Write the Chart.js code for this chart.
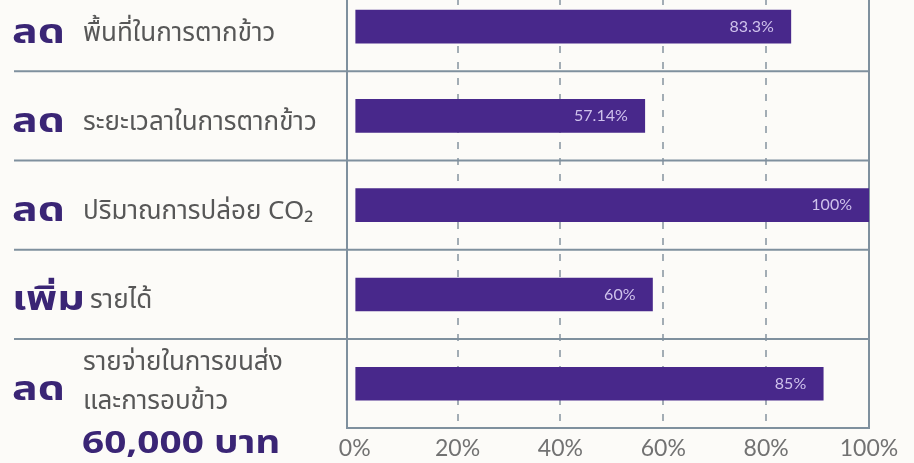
<!DOCTYPE html>
<html lang="th">
<head>
    <meta charset="UTF-8">
    <title>ลด / เพิ่ม</title>
    <script src="https://cdn.jsdelivr.net/npm/chart.js"></script>
    <style>
        html, body {
            margin: 0;
            padding: 0;
            background: #fcfbf8;
            overflow: hidden;
        }
        .wrap {
            position: absolute;
            left: 0;
            top: -18px;
            width: 914px;
            height: 489px;
        }
    </style>
</head>
<body>
    <div class="wrap">
        <canvas id="myChart" width="914" height="489"></canvas>
    </div>

    <script>
        // data
        const prefixes = ['ลด', 'ลด', 'ลด', 'เพิ่ม', 'ลด'];
        const descriptions = [
            ['พื้นที่ในการตากข้าว'],
            ['ระยะเวลาในการตากข้าว'],
            ['ปริมาณการปล่อย CO₂'],
            ['รายได้'],
            ['รายจ่ายในการขนส่ง', 'และการอบข้าว']
        ];
        const footNote = '60,000 บาท';
        // bar lengths as drawn (percent of axis) and the printed labels
        const barValues = [84.8, 56.4, 100, 57.9, 91.1];
        const valueLabels = ['83.3%', '57.14%', '100%', '60%', '85%'];
        const xTicks = [0, 20, 40, 60, 80, 100];

        const purple = '#48288b';
        const textPurple = '#3a2575';
        const lineColor = '#7f909e';
        const thai = '"Noto Sans Thai", "Noto Sans", "DejaVu Sans", sans-serif';

        // bold text, stretched a bit wider like the original lettering
        function wideText(ctx, text, x, y, sx) {
            ctx.save();
            ctx.translate(x, y);
            ctx.scale(sx, 1);
            ctx.fillText(text, 0, 0);
            const w = ctx.measureText(text).width * sx;
            ctx.restore();
            return w;
        }

        const sideLabels = {
            id: 'sideLabels',
            afterDraw(chart) {
                const ctx = chart.ctx;
                const y = chart.scales.y;
                const area = chart.chartArea;
                ctx.save();

                // row separators, running into the label column
                ctx.strokeStyle = lineColor;
                ctx.lineWidth = 2;
                for (let i = 0; i < prefixes.length - 1; i++) {
                    const yy = (y.getPixelForValue(i) + y.getPixelForValue(i + 1)) / 2;
                    ctx.beginPath();
                    ctx.moveTo(14, yy);
                    ctx.lineTo(area.right, yy);
                    ctx.stroke();
                }

                ctx.textBaseline = 'alphabetic';
                ctx.textAlign = 'left';
                prefixes.forEach((p, i) => {
                    const cy = y.getPixelForValue(i);
                    const lines = descriptions[i];
                    const multi = lines.length > 1;

                    ctx.font = 'bold 33px ' + thai;
                    ctx.fillStyle = textPurple;
                    const w = wideText(ctx, p, 12, cy + (multi ? 16 : 16), 1.3);
                    const tx = Math.max(83, 12 + w + 5);

                    ctx.font = '26px ' + thai;
                    ctx.fillStyle = '#575757';
                    lines.forEach((t, k) => {
                        const ly = multi ? cy - 14 + k * 39 : cy + 14;
                        ctx.fillText(t, tx, ly);
                    });
                });

                // amount under the last row
                const last = y.getPixelForValue(prefixes.length - 1);
                ctx.font = 'bold 31px ' + thai;
                ctx.fillStyle = textPurple;
                wideText(ctx, footNote, 82, last + 69, 1.25);

                // value labels inside the bars
                const meta = chart.getDatasetMeta(0);
                ctx.font = '16px Lato, "Open Sans", sans-serif';
                ctx.fillStyle = '#cfc2ec';
                ctx.textAlign = 'right';
                ctx.textBaseline = 'middle';
                meta.data.forEach((bar, i) => {
                    ctx.fillText(valueLabels[i], bar.x - 17, bar.y);
                });
                ctx.restore();
            }
        };

        const ctx = document.getElementById('myChart').getContext('2d');
        const myChart = new Chart(ctx, {
            type: 'bar',
            data: {
                labels: prefixes.map((p, i) => p + ' ' + descriptions[i].join(' ')),
                datasets: [{
                    data: barValues,
                    backgroundColor: purple,
                    borderWidth: 0,
                    barThickness: 33
                }]
            },
            options: {
                indexAxis: 'y',
                responsive: false,
                animation: false,
                layout: {
                    padding: { left: 347, right: 45, top: 0, bottom: 3 }
                },
                plugins: {
                    legend: { display: false },
                    tooltip: { enabled: false }
                },
                scales: {
                    x: {
                        min: -1.5,
                        max: 100,
                        afterBuildTicks: axis => {
                            axis.ticks = xTicks.map(v => ({ value: v }));
                        },
                        ticks: {
                            padding: 6,
                            color: '#727272',
                            font: { family: 'Lato, "Open Sans", sans-serif', size: 23 },
                            callback: v => v + '%'
                        },
                        grid: {
                            drawTicks: false,
                            lineWidth: 2,
                            color: c => c.tick && c.tick.value === 0 ? 'rgba(0,0,0,0)' :
                                (c.tick && c.tick.value === 100 ? lineColor : '#a3adb5')
                        },
                        border: {
                            display: true,
                            color: lineColor,
                            width: 2,
                            dash: c => c.tick && c.tick.value === 100 ? [] : [7, 9]
                        }
                    },
                    y: {
                        ticks: { display: false },
                        grid: { display: false, drawTicks: false },
                        border: { display: true, color: lineColor, width: 2 }
                    }
                }
            },
            plugins: [sideLabels]
        });
    </script>
</body>
</html>
